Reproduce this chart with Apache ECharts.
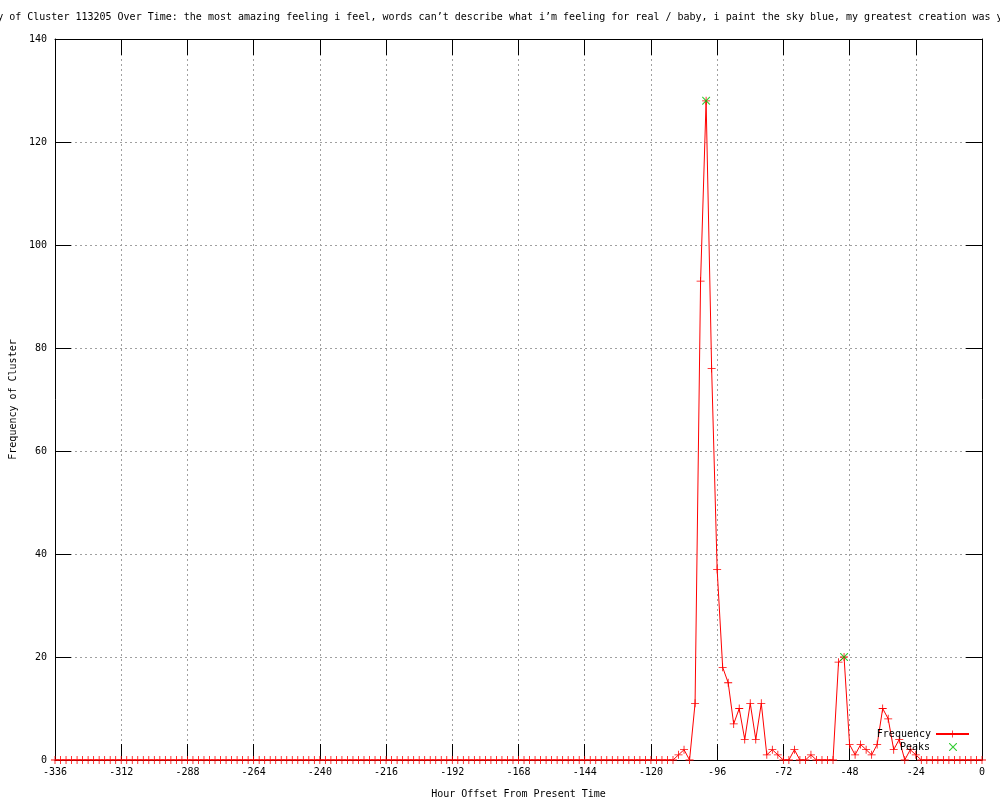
<!DOCTYPE html>
<html>
<head>
<meta charset="utf-8">
<script src="https://cdn.jsdelivr.net/npm/echarts@6/dist/echarts.min.js"></script>
<style>html,body{margin:0;padding:0;background:#fff}#c{width:1000px;height:800px}</style>
</head>
<body>
<div id="c"></div>
<script>
const titleText = 'Frequency of Cluster 113205 Over Time: the most amazing feeling i feel, words can\u2019t describe what i\u2019m feeling for real / baby, i paint the sky blue, my greatest creation was you';
const xAxisName = 'Hour Offset From Present Time';
const yAxisName = 'Frequency of Cluster';
const seriesNames = ['Frequency', 'Peaks'];

// hour offsets (every 2 hours)
const hours = [
-336,-334,-332,-330,-328,-326,-324,-322,-320,-318,-316,-314,-312,-310,-308,-306,-304,-302,-300,-298,
-296,-294,-292,-290,-288,-286,-284,-282,-280,-278,-276,-274,-272,-270,-268,-266,-264,-262,-260,-258,
-256,-254,-252,-250,-248,-246,-244,-242,-240,-238,-236,-234,-232,-230,-228,-226,-224,-222,-220,-218,
-216,-214,-212,-210,-208,-206,-204,-202,-200,-198,-196,-194,-192,-190,-188,-186,-184,-182,-180,-178,
-176,-174,-172,-170,-168,-166,-164,-162,-160,-158,-156,-154,-152,-150,-148,-146,-144,-142,-140,-138,
-136,-134,-132,-130,-128,-126,-124,-122,-120,-118,-116,-114,-112,-110,-108,-106,-104,-102,-100,-98,
-96,-94,-92,-90,-88,-86,-84,-82,-80,-78,-76,-74,-72,-70,-68,-66,-64,-62,-60,-58,
-56,-54,-52,-50,-48,-46,-44,-42,-40,-38,-36,-34,-32,-30,-28,-26,-24,-22,-20,-18,
-16,-14,-12,-10,-8,-6,-4,-2,0
];
const frequency = [
0,0,0,0,0,0,0,0,0,0,0,0,0,0,0,0,0,0,0,0,
0,0,0,0,0,0,0,0,0,0,0,0,0,0,0,0,0,0,0,0,
0,0,0,0,0,0,0,0,0,0,0,0,0,0,0,0,0,0,0,0,
0,0,0,0,0,0,0,0,0,0,0,0,0,0,0,0,0,0,0,0,
0,0,0,0,0,0,0,0,0,0,0,0,0,0,0,0,0,0,0,0,
0,0,0,0,0,0,0,0,0,0,0,0,0,1,2,0,11,93,128,76,
37,18,15,7,10,4,11,4,11,1,2,1,0,0,2,0,0,1,0,0,
0,0,19,20,3,1,3,2,1,3,10,8,2,4,0,2,1,0,0,0,
0,0,0,0,0,0,0,0,0
];
const peakHours = [-100, -50];
const peakValues = [128, 20];
const xTicks = {min: -336, max: 0, interval: 24};
const yTicks = {min: 0, max: 140, interval: 20};

const FONT = 'DejaVu Sans Mono';
const plusPath = 'path://M4.5,0h1v4.5h4.5v1h-4.5v4.5h-1v-4.5h-4.5v-1h4.5z';
const crossPath = 'path://M0,0L1,0L5,4L9,0L10,0L10,1L6,5L10,9L10,10L9,10L5,6L1,10L0,10L0,9L4,5L0,1Z';

const chart = echarts.init(document.getElementById('c'), null, {renderer: 'canvas'});
const txt = {color: '#000', fontFamily: FONT, fontSize: 10};
const mirrorAxis = (pos) => ({
  position: pos, axisLine: {show: true, onZero: false, lineStyle: {color: '#000', width: 1}},
  axisTick: {show: true, inside: true, length: 16, lineStyle: {color: '#000'}},
  axisLabel: {show: false}, splitLine: {show: false}
});
chart.setOption({
  animation: false,
  backgroundColor: '#fff',
  title: {text: titleText, left: -51, top: 12, padding: 0,
    textStyle: {color: '#000', fontFamily: FONT, fontSize: 10, fontWeight: 'normal'}},
  grid: {left: 55, right: 18, top: 39, bottom: 40, containLabel: false, outerBoundsMode: 'none'},
  legend: [
    {data: [{name: seriesNames[0]}], orient: 'vertical', align: 'right', right: 30, top: 729, padding: 0,
     itemWidth: 33, itemHeight: 9, textStyle: txt},
    {data: [{name: seriesNames[1], icon: crossPath}], orient: 'vertical', align: 'right', right: 43, top: 742, padding: 0,
     itemWidth: 8, itemHeight: 8, textStyle: Object.assign({padding: [0, 14, 0, 0]}, txt)}
  ],
  xAxis: [
    Object.assign({type: 'value', min: xTicks.min, max: xTicks.max, interval: xTicks.interval,
      name: xAxisName, nameLocation: 'middle', nameGap: 29, nameTextStyle: txt,
      axisLine: {show: true, onZero: false, lineStyle: {color: '#000', width: 1}},
      axisTick: {show: true, inside: true, length: 16, lineStyle: {color: '#000'}},
      axisLabel: Object.assign({margin: 7}, txt),
      splitLine: {show: true, lineStyle: {color: '#a0a0a0', type: [2, 3], width: 1}}
    }),
    Object.assign({type: 'value', min: xTicks.min, max: xTicks.max, interval: xTicks.interval}, mirrorAxis('top'))
  ],
  yAxis: [
    {type: 'value', min: yTicks.min, max: yTicks.max, interval: yTicks.interval,
      name: yAxisName, nameLocation: 'middle', nameGap: 36, nameRotate: 90, nameTextStyle: txt,
      axisLine: {show: true, onZero: false, lineStyle: {color: '#000', width: 1}},
      axisTick: {show: true, inside: true, length: 16, lineStyle: {color: '#000'}},
      axisLabel: Object.assign({margin: 8}, txt),
      splitLine: {show: true, lineStyle: {color: '#a0a0a0', type: [2, 3], width: 1}}
    },
    Object.assign({type: 'value', min: yTicks.min, max: yTicks.max, interval: yTicks.interval}, mirrorAxis('right'))
  ],
  series: [
    {name: seriesNames[0], type: 'line', xAxisIndex: 0, yAxisIndex: 0,
     data: hours.map((h, i) => [h, frequency[i]]),
     symbol: plusPath, symbolSize: 8, showAllSymbol: true,
     itemStyle: {color: '#ff0000'}, lineStyle: {color: '#ff0000', width: 1}, z: 3},
    {name: seriesNames[1], type: 'scatter', xAxisIndex: 0, yAxisIndex: 0,
     data: peakHours.map((h, i) => [h, peakValues[i]]),
     symbol: crossPath, symbolSize: 8,
     itemStyle: {color: '#00c000'}, z: 4}
  ]
});
</script>
</body>
</html>
